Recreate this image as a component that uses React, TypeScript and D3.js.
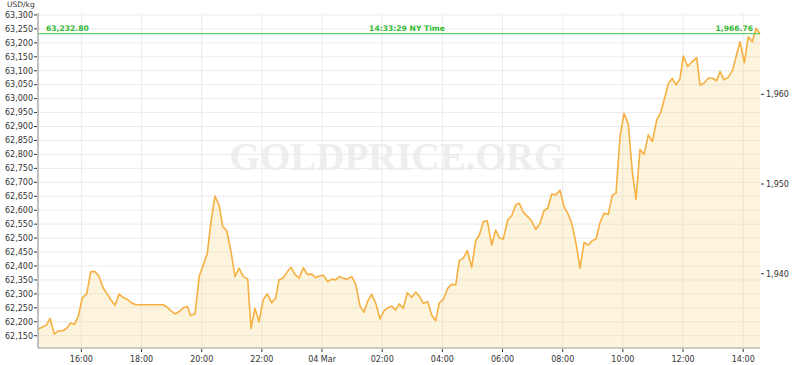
import React from "react";
import * as d3 from "d3";

// hours since 03 Mar 00:00 (local) and gold price in USD/kg
const hours: number[] = [
  14.57, 14.735, 14.846, 14.957, 15.1, 15.234, 15.378, 15.511, 15.644, 15.766, 15.899,
  16.032, 16.176, 16.309, 16.453, 16.586, 16.73, 16.863, 16.985, 17.118, 17.251, 17.395,
  17.528, 17.672, 17.816, 17.949, 18.08, 18.21, 18.34, 18.47, 18.6, 18.724, 18.835, 18.968,
  19.112, 19.245, 19.389, 19.522, 19.633, 19.777, 19.92, 20.053, 20.186, 20.309, 20.442,
  20.585, 20.698, 20.831, 20.974, 21.107, 21.24, 21.383, 21.529, 21.638, 21.771, 21.904,
  22.047, 22.18, 22.327, 22.46, 22.569, 22.712, 22.845, 22.968, 23.101, 23.234, 23.377,
  23.51, 23.656, 23.789, 23.909, 24.042, 24.188, 24.321, 24.454, 24.574, 24.707, 24.84,
  24.986, 25.119, 25.262, 25.395, 25.518, 25.651, 25.784, 25.93, 26.06, 26.183, 26.316,
  26.449, 26.568, 26.701, 26.834, 26.98, 27.113, 27.233, 27.366, 27.512, 27.645, 27.778,
  27.898, 28.031, 28.177, 28.31, 28.443, 28.563, 28.696, 28.829, 28.975, 29.108, 29.228,
  29.361, 29.494, 29.64, 29.773, 29.893, 30.026, 30.172, 30.305, 30.438, 30.558, 30.691,
  30.837, 30.97, 31.103, 31.246, 31.379, 31.502, 31.635, 31.768, 31.911, 32.044, 32.167,
  32.3, 32.443, 32.576, 32.709, 32.852, 32.985, 33.107, 33.24, 33.373, 33.516, 33.649,
  33.772, 33.905, 34.038, 34.181, 34.314, 34.437, 34.57, 34.703, 34.846, 34.98, 35.124,
  35.257, 35.377, 35.51, 35.643, 35.766, 35.899, 36.009, 36.155, 36.308, 36.454, 36.564,
  36.697, 36.84, 36.986, 37.119, 37.229, 37.362, 37.505, 37.651, 37.761, 37.894, 38.037,
  38.17, 38.303, 38.426, 38.558,
];

const prices: number[] = [
  62174, 62183, 62189, 62212, 62156, 62167, 62167, 62177, 62196, 62190, 62220,
  62287, 62299, 62379, 62380, 62362, 62320, 62299, 62278, 62259, 62299, 62287,
  62280, 62267, 62261, 62261, 62261, 62261, 62261, 62261, 62261, 62261, 62254, 62240,
  62228, 62236, 62250, 62255, 62222, 62229, 62364, 62404, 62445, 62559, 62651,
  62615, 62541, 62527, 62451, 62362, 62392, 62362, 62353, 62176, 62248, 62200,
  62280, 62300, 62268, 62286, 62350, 62358, 62379, 62395, 62370, 62356, 62394,
  62370, 62371, 62358, 62364, 62367, 62344, 62353, 62350, 62362, 62356, 62353,
  62362, 62335, 62256, 62234, 62274, 62298, 62266, 62210, 62240, 62250, 62256,
  62242, 62264, 62248, 62304, 62288, 62306, 62292, 62266, 62272, 62224, 62204,
  62268, 62280, 62320, 62334, 62332, 62419, 62428, 62455, 62395, 62491, 62511,
  62559, 62562, 62475, 62529, 62501, 62497, 62565, 62580, 62619, 62625, 62592,
  62577, 62561, 62531, 62553, 62598, 62607, 62658, 62655, 62671, 62613, 62589,
  62553, 62481, 62392, 62484, 62475, 62491, 62497, 62555, 62589, 62585, 62654,
  62661, 62864, 62947, 62908, 62738, 62639, 62818, 62800, 62870, 62846, 62923,
  62950, 62998, 63053, 63073, 63049, 63072, 63153, 63115, 63133, 63147, 63049,
  63055, 63073, 63073, 63064, 63097, 63067, 63077, 63103, 63150, 63204, 63129,
  63222, 63204, 63252, 63232.8,
];

const leftTicks: number[] = d3.range(62150, 63301, 50);
const rightTicks: number[] = [1940, 1950, 1960];
const lastPriceKg = 63232.8;
const lastPriceOz = 1966.76;
const timeLabel = "14:33:29 NY Time";
const unitLabel = "USD/kg";
const watermark = "GOLDPRICE.ORG";
const ozPerKg = 32.1507;
const windowStartHour = 14.558;
const windowEndHour = 38.558;

const base = new Date(2022, 2, 3, 0, 0, 0).getTime();
const toDate = (h: number) => new Date(base + h * 3600000);

const W = 800, H = 365;
const left = 38, right = 760, top = 13, bottom = 348;
const FONT = "'DejaVu Sans', Verdana, sans-serif";

export default function App() {
  const x = d3.scaleTime()
    .domain([toDate(windowStartHour), toDate(windowEndHour)])
    .range([left, right]);
  const y = d3.scaleLinear().domain([62106, 63307]).range([bottom, top]);
  const yOz = d3.scaleLinear()
    .domain([62106 / ozPerKg, 63307 / ozPerKg])
    .range([bottom, top]);

  const data = hours.map((h, i) => ({ t: toDate(h), v: prices[i] }));
  const line = d3.line<any>().x(d => x(d.t)).y(d => y(d.v));
  const area = d3.area<any>().x(d => x(d.t)).y0(bottom).y1(d => y(d.v));

  const xTicks = x.ticks(d3.timeHour.every(2) as any);
  const fmtH = d3.timeFormat("%H:%M");
  const fmtD = d3.timeFormat("%d %b");
  const fmt = (d: Date) => (d.getHours() === 0 ? fmtD(d) : fmtH(d));
  const numFmt = d3.format(",");

  return (
    <svg width={W} height={H} style={{ position: "absolute", left: 0, top: 0, background: "#fff" }}
      fontFamily={FONT}>
      <text x={(left + right) / 2 - 2} y={170} textAnchor="middle" fontFamily="'Liberation Serif', 'Times New Roman', serif"
        fontWeight="bold" fontSize={39} fill="#eeeeee">{watermark}</text>
      {leftTicks.map(v => (
        <line key={"hg" + v} x1={left} x2={right} y1={y(v)} y2={y(v)} stroke="#ebebeb" strokeWidth={1} />
      ))}
      {xTicks.map(t => (
        <line key={"vg" + t.getTime()} x1={x(t)} x2={x(t)} y1={top} y2={bottom} stroke="#ebebeb" strokeWidth={1} />
      ))}
      <path d={area(data) || ""} fill="#f8d27a" fillOpacity={0.25} />
      <path d={line(data) || ""} fill="none" stroke="#f5b041" strokeWidth={1.6} strokeLinejoin="round" />
      <line x1={left} x2={right} y1={y(lastPriceKg)} y2={y(lastPriceKg)} stroke="#45c845" strokeWidth={1} />
      <text x={46} y={y(lastPriceKg) - 3} fontSize={7.6} fontWeight="bold" fill="#33b833">{d3.format(",.2f")(lastPriceKg)}</text>
      <text x={407} y={y(lastPriceKg) - 3} textAnchor="middle" fontSize={7.6} fontWeight="bold" fill="#33b833">{timeLabel}</text>
      <text x={753} y={y(lastPriceKg) - 3} textAnchor="end" fontSize={7.6} fontWeight="bold" fill="#33b833">{d3.format(",.2f")(lastPriceOz)}</text>
      {/* axes */}
      <line x1={left} x2={left} y1={top} y2={bottom} stroke="#999" strokeWidth={1.2} />
      <line x1={left} x2={right} y1={bottom} y2={bottom} stroke="#999" strokeWidth={1.2} />
      {leftTicks.map(v => (
        <g key={"lt" + v}>
          <line x1={left - 4} x2={left - 1} y1={y(v)} y2={y(v)} stroke="#333" strokeWidth={1} />
          <text x={left - 5} y={y(v)} dy="0.35em" textAnchor="end" fontSize={8} fill="#333">{numFmt(v)}</text>
        </g>
      ))}
      {rightTicks.map(v => (
        <g key={"rt" + v}>
          <line x1={right + 1} x2={right + 4} y1={yOz(v)} y2={yOz(v)} stroke="#333" strokeWidth={1} />
          <text x={right + 6} y={yOz(v)} dy="0.35em" fontSize={8} fill="#333">{numFmt(v)}</text>
        </g>
      ))}
      {xTicks.map(t => (
        <g key={"xt" + t.getTime()}>
          <line x1={x(t)} x2={x(t)} y1={bottom + 1} y2={bottom + 4} stroke="#333" strokeWidth={1} />
          <text x={x(t)} y={bottom + 14} textAnchor="middle" fontSize={8} fill="#333">{fmt(t)}</text>
        </g>
      ))}
      <text x={7} y={6.5} fontSize={7.5} fill="#333">{unitLabel}</text>
    </svg>
  );
}
